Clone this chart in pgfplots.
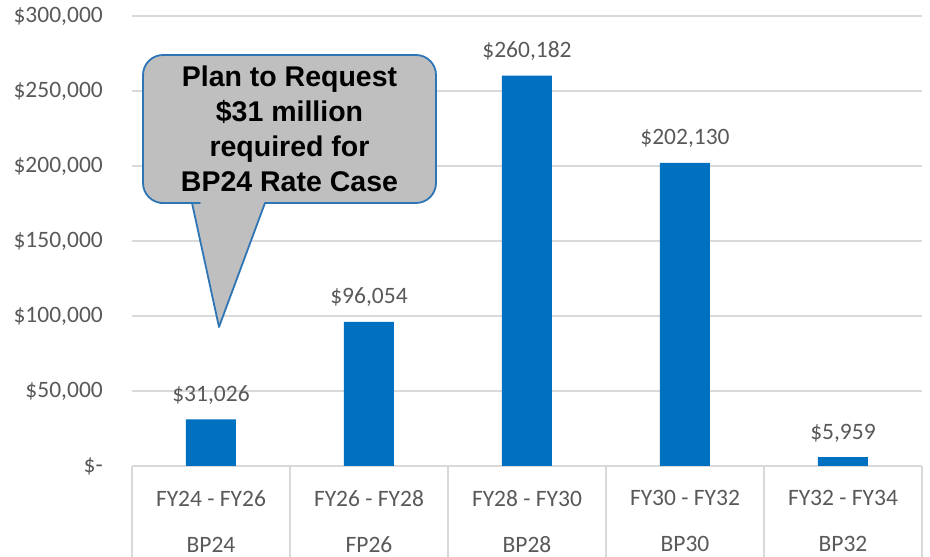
\documentclass[border=0pt]{standalone}
\usepackage{pgfplots}
\pgfplotsset{compat=1.18}
\usepackage{fontspec}
\setmainfont{Carlito}
\newfontfamily\calloutfont{Liberation Sans}

\definecolor{barblue}{RGB}{0,112,192}
\definecolor{gridgray}{RGB}{217,217,217}
\definecolor{txtgray}{RGB}{89,89,89}
\definecolor{callfill}{RGB}{191,191,191}
\definecolor{callline}{RGB}{46,117,182}

\begin{document}
\begin{tikzpicture}[x=1pt,y=1pt]
\begin{axis}[
    at={(0,0)}, anchor=south west,
    scale only axis,
    width=790pt, height=450pt,
    xmin=-0.5, xmax=4.5,
    ymin=0, ymax=300000,
    axis line style={draw=none},
    ymajorgrids,
    grid style={gridgray, line width=1.3pt},
    ytick={0,50000,100000,150000,200000,250000,300000},
    yticklabels={{\$-},{\$50,000},{\$100,000},{\$150,000},{\$200,000},{\$250,000},{\$300,000}},
    scaled y ticks=false,
    xtick={0,1,2,3,4},
    xticklabels={{FY24 - FY26\\BP24},{FY26 - FY28\\FP26},{FY28 - FY30\\BP28},{FY30 - FY32\\BP30},{FY32 - FY34\\BP32}},
    minor xtick={-0.5,0.5,1.5,2.5,3.5,4.5},
    xtick pos=left, ytick pos=left,
    tick align=outside,
    major tick length=0pt,
    minor tick length=120pt,
    major tick style={draw=none},
    minor tick style={gridgray, line width=1.3pt},
    ticklabel style={font=\fontsize{23.5}{46}\selectfont, text=txtgray, inner sep=0pt},
    yticklabel style={anchor=east, xshift=-29pt},
    xticklabel style={anchor=north, align=center, yshift=-24pt},
    ybar, bar width=50pt,
    point meta=explicit symbolic,
    nodes near coords,
    every node near coord/.append style={font=\fontsize{23.5}{28}\selectfont, text=txtgray, anchor=base, inner sep=0pt, yshift=18pt},
]
\addplot[fill=barblue, draw=none] coordinates {
    (0,31026) [\$31,026]
    (1,96054) [\$96,054]
    (2,260182) [\$260,182]
    (3,202130) [\$202,130]
    (4,5959) [\$5,959]
};
\end{axis}
% callout
\filldraw[fill=callfill, draw=callline, line width=1.8pt, line join=round]
    (60,263) -- (87,139) -- (133,263) -- (140,263)
    [rounded corners=20pt] -- (304,263) -- (304,411) -- (11,411) -- (11,263) -- (48,263)
    [sharp corners] -- cycle;
\node[anchor=north, align=center, inner sep=0pt,
      font=\calloutfont\bfseries\fontsize{28.5}{35}\selectfont]
    at (157.5,400) {Plan to Request\\\$31 million\\required for\\BP24 Rate Case};
\pgfresetboundingbox
\useasboundingbox (-132,-91) rectangle (798,466);
\end{tikzpicture}
\end{document}
